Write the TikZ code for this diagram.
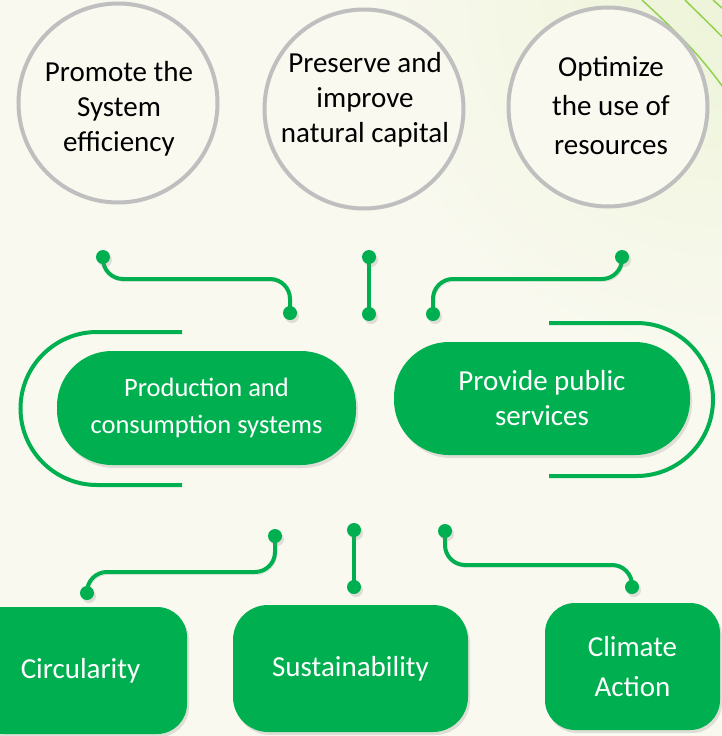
\documentclass[tikz,border=0pt]{standalone}
\usepackage{fontspec}
\setmainfont{Carlito}
\usetikzlibrary{shadows}
\definecolor{cream}{HTML}{F9F9EF}
\definecolor{haze}{HTML}{EDF4D8}
\definecolor{leaf}{HTML}{00B050}
\definecolor{lime}{HTML}{92D050}
\definecolor{ring}{HTML}{BFBFBF}
\pgfdeclarelayer{back}
\pgfdeclarelayer{wires}
\pgfsetlayers{back,wires,main}

\begin{document}
\begin{tikzpicture}[
        x=1pt, y=-1pt,
        goal/.style={circle, draw=ring, line width=4pt, fill=cream, minimum size=199pt, inner sep=0pt},
        goaltext/.style={align=center, font=\fontsize{29}{35}\selectfont},
        soft/.style={drop shadow={shadow xshift=2pt, shadow yshift=-3pt, opacity=0.22}},
        pill/.style={rectangle, fill=leaf, text=white, align=center, rounded corners=55pt, soft},
        tile/.style={rectangle, fill=leaf, text=white, align=center, minimum height=127pt,
            font=\fontsize{29}{40}\selectfont, soft},
        dot/.style={circle, fill=leaf, minimum size=14pt, inner sep=0pt, soft},
        link/.style={draw=leaf, line width=4pt, rounded corners=20pt,
            preaction={draw=black, opacity=0.16, transform canvas={shift={(1.5pt,-2.5pt)}}}},
        bracket/.style={draw=leaf, line width=4pt},
        swirl/.style={draw=lime, line width=1.5pt}
    ]
        \useasboundingbox (0,0) rectangle (722,736);

        % Background with the green haze top right
        \begin{pgfonlayer}{back}
            \fill[cream] (0,0) rectangle (722,736);
            \begin{scope}
                \clip (0,0) rectangle (722,736);
                \shade[inner color=haze, outer color=cream] (722,0) circle (360);
                \draw[swirl] (642,0) .. controls (680,35) and (705,60) .. (732,100);
                \draw[swirl] (685,0) .. controls (700,15) and (712,26) .. (730,45);
                \draw[swirl] (713,0) -- (730,15);
            \end{scope}
        \end{pgfonlayer}

        % Goals (top row)
        \node[goal] (efficiency) at (118,103) {};
        \node[goal] (capital) at (364,109) {};
        \node[goal] (resources) at (608,107) {};
        \node[goaltext] (efficiencytext) at (119,109) {Promote the\\System\\efficiency};
        \node[goaltext] (capitaltext) at (365,100) {Preserve and\\improve\\natural capital};
        \node[goaltext, font=\fontsize{29}{39}\selectfont] (resourcestext) at (611,106) {Optimize\\the use of\\resources};

        % Systems (middle row)
        \node[pill, minimum width=299pt, minimum height=114pt, font=\fontsize{26.5}{37}\selectfont]
            (production) at (206.5,408) {Production and\\consumption systems};
        \node[pill, minimum width=296pt, minimum height=113pt, font=\fontsize{29}{35}\selectfont]
            (services) at (542,398.5) {Provide public\\services};

        % Brackets round the systems
        \draw[bracket] (182,332) -- (97,332) arc[start angle=-90, end angle=-270, radius=76.5] -- (182,485);
        \draw[bracket] (549,323) -- (636.5,323) arc[start angle=-90, end angle=90, radius=76.5] -- (549,476);

        % Outcomes (bottom row)
        \node[tile, minimum width=213pt, rounded corners=30pt] (circularity) at (80.5,670.5) {Circularity};
        \node[tile, minimum width=235pt, rounded corners=35pt] (sustainability) at (350.5,668.5) {Sustainability};
        \node[tile, minimum width=175pt, rounded corners=30pt] (climate) at (632.5,666.5) {Climate\\Action};

        % Connector end points
        \foreach \n/\x/\y in {a1/103/257, a2/290/313, b1/369/257, b2/369/314, c1/622/257, c2/433/314,
                              d1/275/536, d2/87/593, e1/354/530, e2/354/587, f1/445/531, f2/632/587}
            \node[dot] (\n) at (\x,\y) {};

        % Connectors
        \begin{pgfonlayer}{wires}
            \draw[link] (a1.center) -- ++(0,22) -| (a2.center);
            \draw[link] (b1.center) -- (b2.center);
            \draw[link] (c1.center) -- ++(0,22) -| (c2.center);
            \draw[link] (d1.center) -- ++(0,36) -| (d2.center);
            \draw[link] (e1.center) -- (e2.center);
            \draw[link] (f1.center) -- ++(0,34) -| (f2.center);
        \end{pgfonlayer}

    \end{tikzpicture}
\end{document}
